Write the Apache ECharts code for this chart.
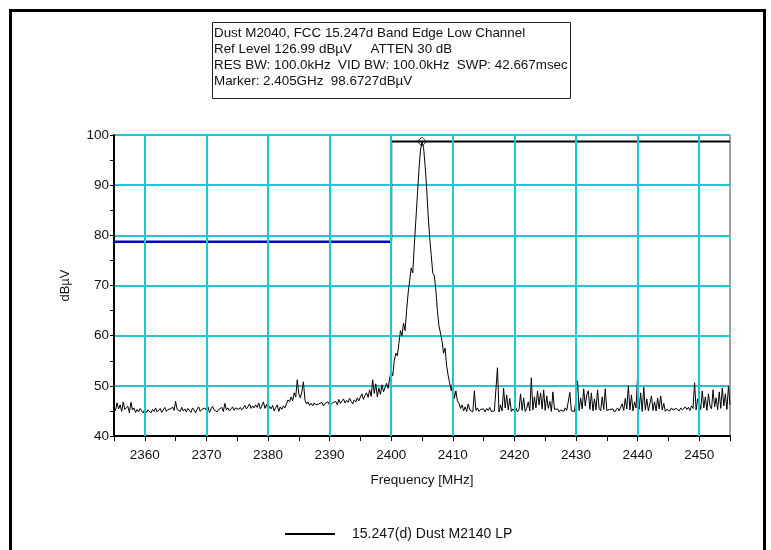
<!DOCTYPE html>
<html lang="en">
<head>
    <meta charset="UTF-8">
    <title>Band Edge Low Channel</title>
    <script src="https://cdn.jsdelivr.net/npm/echarts@6.0.0/dist/echarts.min.js"></script>
    <style>
        html, body { margin: 0; padding: 0; background: #fff; }
    </style>
</head>
<body>
    <div id="main" style="width: 771px; height: 550px;"></div>
    <script>
        // sweep: 2355 .. 2455 MHz, 0.25 MHz per point
        const sweepStart = 2355;
        const sweepStep = 0.25;

        // measured level (dBuV), one row per MHz
        const levels = [
            45.8, 45.1, 46.6, 45.4,  46.2, 44.9, 46.8, 45.3,  45.0, 45.9, 44.6, 46.7,  45.2, 45.6, 44.7, 45.3,
            44.8, 45.5, 45.0, 44.6,  45.4, 44.7, 45.2, 45.0,  44.6, 45.3, 44.9, 45.6,  44.8, 45.1, 45.5, 44.7,
            45.2, 45.7, 44.9, 45.3,  45.0, 45.4, 45.8, 45.1,  46.9, 45.3, 45.6, 44.9,  45.7, 45.0, 45.4, 44.8,
            45.5, 45.1, 44.7, 45.6,  45.2, 44.6, 45.4, 45.8,  44.9, 45.3, 45.0, 45.6,  45.1, 45.8, 44.7, 45.4,
            45.9, 45.2, 45.5, 44.8,  45.3, 45.0, 45.7, 44.9,  46.5, 45.2, 45.6, 45.0,  45.4, 45.8, 45.1, 45.6,
            45.9, 45.3, 45.7, 45.2,  45.6, 46.1, 45.4, 45.8,  46.4, 45.5, 46.0, 45.6,  46.2, 45.7, 46.6, 45.4,
            46.0, 46.8, 45.5, 46.3,  45.2, 45.9, 45.4, 46.1,  45.0, 45.7, 46.2, 44.9,  45.8, 45.3, 46.0, 45.6,
            46.4, 47.2, 46.8, 47.8,  47.0, 48.6, 47.8, 51.2,  48.4, 47.6, 48.8, 50.8,  47.2, 46.4, 46.8, 46.1,
            46.5, 46.0, 46.6, 46.2,  45.9, 46.4, 46.1, 46.7,  46.0, 46.5, 46.2, 46.8,  46.1, 45.8, 46.6, 46.3,
            46.9, 46.2, 47.3, 46.5,  46.8, 47.4, 46.6, 47.1,  46.7, 47.5, 46.9, 46.4,  47.2, 46.8, 47.6, 47.0,
            47.8, 48.4, 47.3, 48.1,  48.6, 47.7, 49.2, 47.9,  51.2, 48.5, 50.4, 47.8,  49.6, 48.3, 50.2, 48.8,
            49.0, 50.5, 49.5, 51.5,  53.0, 52.0, 55.0, 56.5,  56.0, 58.5, 61.0, 60.0,  62.5, 61.0, 65.0, 68.5,
            71.0, 73.5, 72.5, 78.0,  83.0, 88.0, 93.0, 97.0,  98.67, 97.5, 94.0, 89.5,  84.0, 79.5, 76.0, 72.5,
            72.0, 69.0, 65.0, 62.0,  60.5, 59.0, 56.5, 57.5,  54.0, 52.0, 50.5, 49.0,  51.0, 47.5, 49.0, 47.0,
            46.5, 45.5, 46.2, 45.0,  45.8, 44.9, 46.4, 45.2,  45.5, 44.8, 49.0, 45.1,  45.6, 44.9, 45.3, 45.0,
            45.4, 44.8, 45.5, 45.1,  45.7, 44.9, 45.2, 45.0,  45.3, 53.6, 44.8, 46.2,  45.0, 49.5, 45.6, 48.2,
            45.2, 47.5, 44.9, 45.4,  45.0, 45.6, 44.8, 45.3,  48.4, 45.1, 47.6, 44.9,  45.5, 46.8, 45.0, 51.6,
            45.2, 47.8, 45.6, 49.0,  46.2, 48.6, 45.4, 49.2,  45.1, 48.0, 45.5, 46.9,  44.9, 48.8, 45.3, 45.0,
            45.4, 44.8, 45.2, 45.0,  44.9, 45.6, 45.1, 44.8,  48.7, 45.0, 45.3, 44.9,  47.2, 51.0, 45.1, 47.6,
            45.4, 49.4, 46.0, 48.2,  49.0, 45.3, 48.6, 45.0,  47.4, 45.2, 49.2, 45.5,  45.0, 47.8, 45.3, 49.4,
            45.1, 44.9, 45.3, 45.0,  45.4, 44.8, 45.2, 45.6,  45.0, 45.3, 46.4, 45.1,  47.5, 45.4, 50.0, 45.2,
            48.2, 45.0, 46.8, 45.6,  52.0, 45.3, 48.6, 44.9,  49.7, 45.2, 47.4, 45.0,  45.3, 48.0, 45.1, 46.8,
            45.0, 47.6, 45.4, 48.0,  45.2, 46.5, 44.9, 45.3,  45.4, 45.0, 45.6, 45.2,  45.1, 45.5, 45.3, 45.0,
            45.6, 45.2, 45.4, 45.8,  45.3, 45.7, 45.1, 46.0,  45.5, 50.6, 45.2, 47.4,  46.8, 45.3, 49.0, 45.6,
            47.8, 45.1, 48.4, 46.0,  45.4, 49.2, 45.8, 47.6,  45.2, 48.8, 45.5, 49.6,  46.0, 48.4, 45.3, 50.0,
            46.2
        ];

        // limit lines
        const restrictedLimit = [[2355, 78.7], [2400, 78.7]];
        const bandLimit = [[2400, 78.7], [2400, 98.7], [2455, 98.7]];
        const marker = [[2405, 98.67]];
        const gridFreqs = [2360, 2370, 2380, 2390, 2400, 2410, 2420, 2430, 2440, 2450];

        const titleLines = [
            'Dust M2040, FCC 15.247d Band Edge Low Channel',
            'Ref Level 126.99 dB\u00b5V     ATTEN 30 dB',
            'RES BW: 100.0kHz  VID BW: 100.0kHz  SWP: 42.667msec',
            'Marker: 2.405GHz  98.6727dB\u00b5V'
        ];

        const trace = levels.map((v, i) => [sweepStart + i * sweepStep, v]);

        const cyan = '#1fc6cf';
        const font = 'Arial, "Liberation Sans", sans-serif';

        const chart = echarts.init(document.getElementById('main'));
        chart.setOption({
            animation: false,
            backgroundColor: '#fff',
            textStyle: { fontFamily: font },
            grid: {
                left: 114, right: 41, top: 135, bottom: 114,
                show: true, borderColor: '#444', borderWidth: 1,
                containLabel: false
            },
            legend: {
                data: ['15.247(d) Dust M2140 LP'],
                left: 280, top: 522,
                icon: 'rect', itemWidth: 50, itemHeight: 2,
                textStyle: { fontSize: 14, color: '#111', padding: [0, 0, 0, 12], fontFamily: font },
                selectedMode: false
            },
            xAxis: {
                type: 'value', min: 2355, max: 2455, interval: 5,
                name: 'Frequency [MHz]', nameLocation: 'middle', nameGap: 37,
                nameTextStyle: { fontSize: 13.5, color: '#111' },
                axisLine: { lineStyle: { color: '#000', width: 2 } },
                axisTick: { length: 5, lineStyle: { color: '#000' } },
                axisLabel: {
                    fontSize: 13.5, color: '#111', margin: 12,
                    formatter: v => (v % 10 === 0 && v > 2355 && v < 2455) ? String(v) : ''
                },
                splitLine: { show: false }
            },
            yAxis: {
                type: 'value', min: 40, max: 100, interval: 10,
                name: 'dB\u00b5V', nameLocation: 'middle', nameGap: 42,
                nameTextStyle: { fontSize: 13, color: '#111' },
                axisLine: { show: true, lineStyle: { color: '#000', width: 2 } },
                axisTick: { show: true, length: 4, lineStyle: { color: '#000' } },
                minorTick: { show: true, splitNumber: 2, length: 4, lineStyle: { color: '#000' } },
                axisLabel: { fontSize: 13.5, color: '#111', margin: 5 },
                splitLine: { lineStyle: { color: cyan, width: 2 } }
            },
            series: [
                {
                    name: 'grid',
                    type: 'line', data: [], z: 1, silent: true,
                    markLine: {
                        silent: true, symbol: 'none', label: { show: false },
                        lineStyle: { color: cyan, width: 2, type: 'solid' },
                        data: gridFreqs.map(f => ({ xAxis: f }))
                    }
                },
                {
                    name: 'restricted',
                    type: 'line', data: restrictedLimit, symbol: 'none', z: 3,
                    lineStyle: { color: '#0000c8', width: 2.5 }
                },
                {
                    name: 'band',
                    type: 'line', data: bandLimit, symbol: 'none', z: 3,
                    lineStyle: { color: '#000', width: 2 }
                },
                {
                    name: '15.247(d) Dust M2140 LP',
                    type: 'line', data: trace, symbol: 'none', z: 4,
                    itemStyle: { color: '#000' },
                    lineStyle: { color: '#000', width: 1 }
                },
                {
                    name: 'marker',
                    type: 'scatter', data: marker, symbol: 'diamond', symbolSize: 9, z: 5,
                    itemStyle: { color: 'rgba(255,255,255,0)', borderColor: '#000', borderWidth: 1 }
                }
            ],
            graphic: [
                {
                    type: 'rect', left: 8, top: 8, z: 10, silent: true,
                    shape: { width: 754, height: 560 },
                    style: { fill: null, stroke: '#000', lineWidth: 3 }
                },
                {
                    type: 'rect', left: 212, top: 22, z: 10,
                    shape: { width: 358, height: 76 },
                    style: { fill: '#fff', stroke: '#222', lineWidth: 1 }
                },
                {
                    type: 'text', left: 214, top: 25, z: 11,
                    style: {
                        text: titleLines.join('\n'),
                        font: '13.4px ' + font,
                        lineHeight: 16,
                        fill: '#111'
                    }
                }
            ]
        });
    </script>
</body>
</html>
